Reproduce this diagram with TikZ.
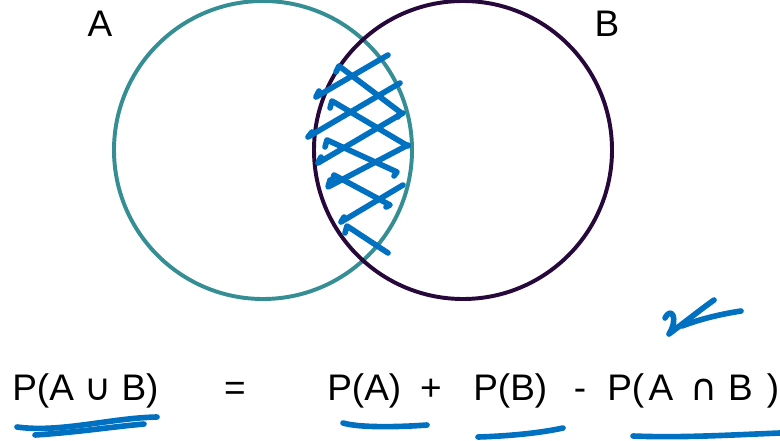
\documentclass[tikz,border=0pt]{standalone}
\usepackage{fontspec}
\setmainfont{Liberation Sans}
\newfontfamily\symfont{DejaVu Sans}
\usetikzlibrary{calc}
\definecolor{vennteal}{RGB}{52,142,148}
\definecolor{vennpurple}{RGB}{38,8,58}
\definecolor{inkblue}{RGB}{0,112,192}

\tikzset{
  setline/.style={line width=2.8pt},
  ink/.style={inkblue, line width=4pt, line cap=round, line join=round},
  termtext/.style={anchor=base west, inner sep=0pt, font=\fontsize{26.3}{30}\selectfont},
  setlabel/.style={inner sep=0pt, font=\fontsize{26.3}{30}\selectfont}
}

\begin{document}
\begin{tikzpicture}[x=0.025cm, y=-0.025cm]
\useasboundingbox (0,0) rectangle (780,440);

% === Conjuntos A y B ===
\draw[setline, vennteal] (263,150) circle (149);
\draw[setline, vennpurple] (463,150) circle (149);
\node[setlabel] (labA) at (100,24) {A};
\node[setlabel] (labB) at (607,24) {B};

% === Rayado de la interseccion ===
\draw[ink] (388,55) -- (316,97) -- ++(3,-6);
\draw[ink] (400,83) -- (308,137) -- ++(4,-5);
\draw[ink] (403,113) -- (318,163) -- ++(3,-6);
\draw[ink] (408,145) -- (328,187) -- ++(2,-7);
\draw[ink] (403,185) -- (341,222) -- ++(3,-5);
\draw[ink] (336,72) -- (339,66) -- (400,112) -- ++(-2,5);
\draw[ink] (330,108) -- (332,101) -- (408,146);
\draw[ink] (325,147) -- (327,140) -- (397,172) -- ++(-3,4);
\draw[ink] (332,182) -- (334,175) -- (390,205) -- ++(-4,2);
\draw[ink] (345,233) -- (347,226) -- (388,253);

% === Formula ===
\node[termtext] (union) at (12,400) {P(A {\symfont ∪} B)};
\node[termtext, anchor=base] (eq) at (235,400) {=};
\node[termtext] (pa) at (327,400) {P(A)};
\node[termtext, anchor=base] (plus) at (431,400) {+};
\node[termtext] (pb) at (473,400) {P(B)};
\node[termtext, anchor=base] (minus) at (580,400) {-};
\node[termtext] (inter) at (607,400) {P(\hspace{0.12em}A\hspace{0.45em}{\symfont ∩}\hspace{0.3em}B\hspace{0.38em})};

% === Subrayados ===
\draw[ink] (17,427) .. controls (60,433) and (110,418) .. (157,417);
\draw[ink] (35,435) .. controls (80,432) and (110,427) .. (144,424);
\draw[ink] (343,423) .. controls (360,428) and (400,427) .. (427,425);
\draw[ink] (478,437) .. controls (510,436) and (540,433) .. (563,428);
\draw[ink] (633,436) .. controls (680,438) and (730,435) .. (780,433);

% === Marca ===
\draw[ink] (665,318) .. controls (671,306) and (679,318) .. (669,334)
  .. controls (685,322) and (700,310) .. (714,300);
\draw[ink] (741,311) .. controls (715,315) and (695,321) .. (682,326);
\end{tikzpicture}
\end{document}
